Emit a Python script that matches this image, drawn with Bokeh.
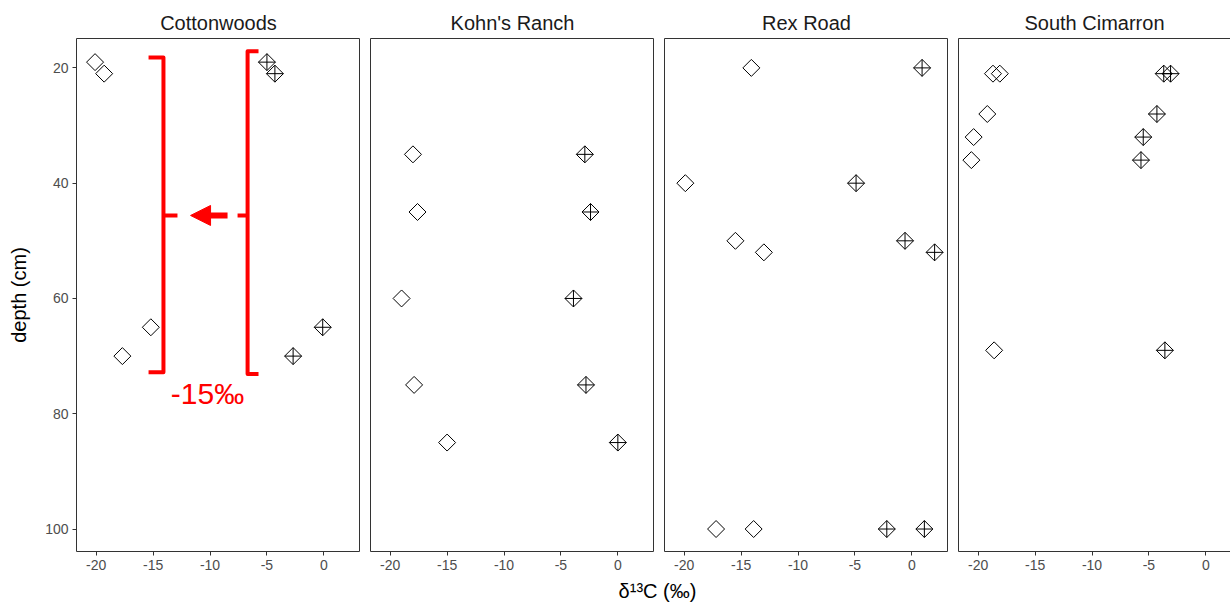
import math
from bokeh.plotting import figure
from bokeh.models import Range1d, FixedTicker, LinearAxis, Arrow, NormalHead
from bokeh.layouts import row, column
from bokeh.embed import file_html
from bokeh.resources import INLINE
from bokeh.core.properties import value

# ---------------- data ----------------
sites = ["Cottonwoods", "Kohn's Ranch", "Rex Road", "South Cimarron"]

cottonwoods_depth = [19, 21, 65, 70]
cottonwoods_som = [-20.1, -19.3, -15.2, -17.7]
cottonwoods_carb = [-5.0, -4.3, -0.1, -2.7]

kohns_depth = [35, 45, 60, 75, 85]
kohns_som = [-18.0, -17.6, -19.0, -17.9, -15.0]
kohns_carb = [-2.9, -2.4, -3.9, -2.8, 0.0]

rex_depth = [20, 40, 50, 52, 100, 100]
rex_som = [-14.1, -19.9, -15.5, -13.0, -17.2, -13.9]
rex_carb = [0.9, -4.9, -0.6, 2.0, -2.2, 1.1]

cimarron_depth = [21, 21, 28, 32, 36, 69]
cimarron_som = [-18.7, -18.1, -19.2, -20.4, -20.6, -18.6]
cimarron_carb = [-3.7, -3.1, -4.3, -5.5, -5.7, -3.6]

x_ticks = [-20, -15, -10, -5, 0]
x_tick_labels = ["-20", "-15", "-10", "-5", "0"]
y_ticks = [20, 40, 60, 80, 100]
y_tick_labels = ["20", "40", "60", "80", "100"]

x_label = "δ¹³C (‰)"
y_label = "depth (cm)"

x_lim = (-21.73, 3.22)
x_lim_last = (-21.73, 2.165)   # last panel is cut by the window edge
y_lim = (103.9, 14.9)          # depth increases downward

# red annotation in the Cottonwoods panel (data units)
bracket_xs = [[-15.4, -14.09, -14.09, -15.4], [-14.09, -12.86],
              [-5.74, -6.7, -6.7, -5.74], [-6.7, -7.58]]
bracket_ys = [[18.2, 18.2, 72.8, 72.8], [45.6, 45.6],
              [17.1, 17.1, 73.1, 73.1], [45.6, 45.6]]
arrow_x = (-8.46, -11.71)
arrow_y = 45.6
offset_label = "-15‰"
offset_label_pos = (-10.22, 76.5)

# ---------------- styling ----------------
FONT = "Liberation Sans"
BORDER = "#333333"
TICK_TEXT = "#4D4D4D"
PANEL_H = 576
STRIP_H = 604 - PANEL_H


def style_axis(ax, ticks, labels):
    ax.ticker = FixedTicker(ticks=ticks)
    ax.major_label_overrides = {t: l for t, l in zip(ticks, labels)}
    ax.major_tick_line_color = BORDER
    ax.major_tick_out = 4
    ax.major_tick_in = 0
    ax.minor_tick_line_color = None
    ax.major_label_text_color = TICK_TEXT
    ax.major_label_text_font = FONT
    ax.major_label_text_font_size = "14px"
    ax.major_label_standoff = 4


def make_panel(title, depth, som, carb, width, xlim, first=False, last=False):
    p = figure(width=width, height=PANEL_H,
               x_range=Range1d(*xlim), y_range=Range1d(*y_lim),
               output_backend="svg", toolbar_location=None,
               y_axis_location="left" if first else None,
               min_border_left=76 if first else 10, min_border_right=0,
               min_border_top=38, min_border_bottom=PANEL_H - 551)
    p.title.text = title
    p.title.align = "center"
    p.title.text_font = FONT
    p.title.text_font_size = "20px"
    p.title.text_font_style = "normal"
    p.title.text_color = "#1A1A1A"
    p.xgrid.visible = False
    p.ygrid.visible = False
    p.background_fill_color = "white"
    p.border_fill_color = "white"

    style_axis(p.xaxis[0], x_ticks, x_tick_labels)
    if first:
        style_axis(p.yaxis[0], y_ticks, y_tick_labels)
        p.yaxis[0].axis_line_color = None
        p.yaxis[0].axis_label = y_label
        p.yaxis[0].axis_label_text_font = FONT
        p.yaxis[0].axis_label_text_font_size = "20px"
        p.yaxis[0].axis_label_text_font_style = "normal"
        p.yaxis[0].axis_label_text_color = "#000000"
        p.yaxis[0].axis_label_standoff = 12

    if last:
        p.outline_line_color = None
        p.xaxis[0].axis_line_color = BORDER
        p.xaxis[0].axis_line_width = 1
        left = LinearAxis(major_tick_line_color=None, minor_tick_line_color=None,
                          major_label_text_font_size="0px", major_label_standoff=0,
                          axis_line_color=BORDER, axis_line_width=1,
                          ticker=FixedTicker(ticks=[]))
        p.add_layout(left, "left")
        top = LinearAxis(major_tick_line_color=None, minor_tick_line_color=None,
                         major_label_text_font_size="0px", major_label_standoff=0,
                         axis_line_color=BORDER, axis_line_width=1,
                         ticker=FixedTicker(ticks=[]))
        p.add_layout(top, "above")
    else:
        p.outline_line_color = BORDER
        p.outline_line_width = 1
        p.xaxis[0].axis_line_color = None

    p.scatter(x=som, y=depth, marker="square", size=12, angle=math.pi / 4,
              fill_color=None, line_color="black", line_width=1)
    p.scatter(x=carb, y=depth, marker="square_x", size=12, angle=math.pi / 4,
              fill_color=None, line_color="black", line_width=1)
    return p


p1 = make_panel(sites[0], cottonwoods_depth, cottonwoods_som, cottonwoods_carb, 360, x_lim, first=True)
p2 = make_panel(sites[1], kohns_depth, kohns_som, kohns_carb, 294, x_lim)
p3 = make_panel(sites[2], rex_depth, rex_som, rex_carb, 294, x_lim)
p4 = make_panel(sites[3], cimarron_depth, cimarron_som, cimarron_carb, 282, x_lim_last, last=True)

# annotation
p1.multi_line(xs=bracket_xs, ys=bracket_ys, line_color="#FF0000", line_width=4,
              line_join="round", line_cap="butt")
p1.add_layout(Arrow(end=NormalHead(size=20, fill_color="#FF0000", line_color="#FF0000", line_width=1),
                    x_start=arrow_x[0], y_start=arrow_y, x_end=arrow_x[1], y_end=arrow_y,
                    line_color="#FF0000", line_width=6))
p1.text(x=[offset_label_pos[0]], y=[offset_label_pos[1]], text=[offset_label],
        text_color="#FF0000", text_font=value(FONT), text_font_size="30px",
        text_align="center", text_baseline="middle")

# x-axis label strip
flab = figure(width=1230, height=STRIP_H, x_range=Range1d(0, 1230), y_range=Range1d(0, STRIP_H),
              output_backend="svg", toolbar_location=None, min_border=0,
              x_axis_location=None, y_axis_location=None)
flab.outline_line_color = None
flab.xgrid.visible = False
flab.ygrid.visible = False
flab.text(x=[657], y=[STRIP_H / 2], text=[x_label], text_color="#000000", text_font=value(FONT),
          text_font_size="20px", text_align="center", text_baseline="middle")

layout = column(row(p1, p2, p3, p4), flab)

open("out.html", "w").write(file_html(layout, INLINE))
